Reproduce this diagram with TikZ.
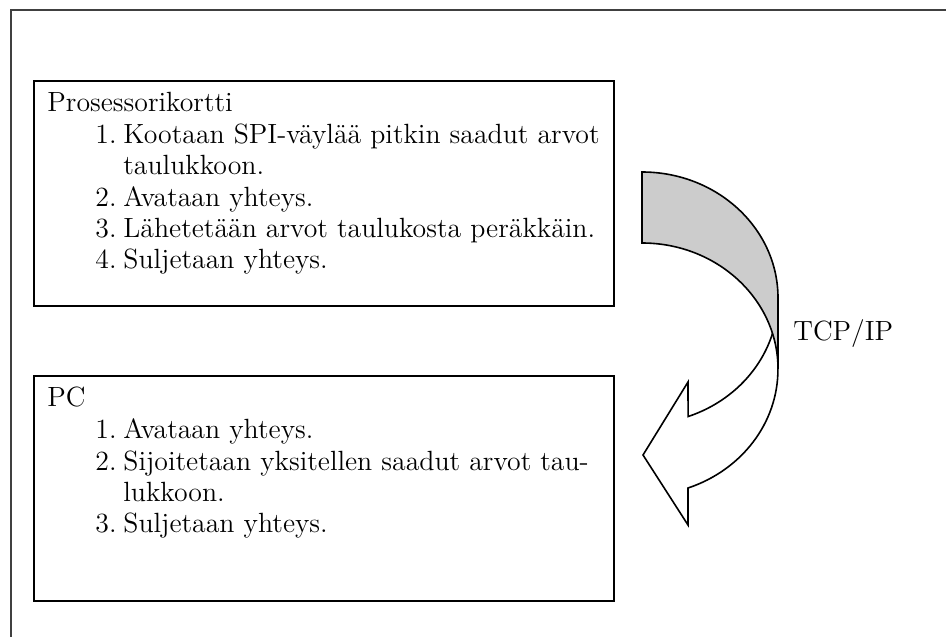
\documentclass[tikz,border=0pt]{standalone}
\usepackage{fontspec}
\tikzset{
  kehys/.style={draw=black!75, line width=1pt},
  laatikko/.style={draw, line width=0.8pt, minimum width=290pt, minimum height=112.5pt, inner sep=0pt},
  rivi/.style={anchor=base west, inner sep=0pt, font=\fontsize{13.9}{15.5}\selectfont},
  nuoli/.style={line width=0.8pt, line join=miter},
}
\begin{document}
\begin{tikzpicture}[x=0.5pt, y=-0.5pt]
    \useasboundingbox (0,0) rectangle (946,637);
    \draw[kehys] (946,10) -- (11,10) -- (11,637); % ulkokehys
    \node[laatikko] (kortti) at (324,193.5) {};
    \node[laatikko] (pc) at (324,488.5) {};
    \node[rivi] (kortti-otsikko) at (47,111) {Prosessorikortti};
    \foreach \y/\n/\t [count=\i] in {143/1./Kootaan SPI-väylää pitkin saadut arvot, 174//taulukkoon., 206/2./Avataan yhteys., 237/3./Lähetetään arvot taulukosta peräkkäin., 268/4./Suljetaan yhteys.} {
        \node[rivi] (knro\i) at (95,\y) {\n};
        \node[rivi] (kteksti\i) at (123,\y) {\t};
    }
    \node[rivi] (pc-otsikko) at (47,406) {PC};
    \foreach \y/\n/\t [count=\i] in {438/1./Avataan yhteys., 470/2./Sijoitetaan yksitellen saadut arvot tau-, 501//lukkoon., 532/3./Suljetaan yhteys.} {
        \node[rivi] (pnro\i) at (95,\y) {\n};
        \node[rivi] (pteksti\i) at (123,\y) {\t};
    }
    % kaareva nuoli: etuosa ensin, harmaa takaosa paalle
    \filldraw[nuoli, fill=white] (778,298) arc[start angle=0, end angle=70.2, x radius=136, y radius=126]
        -- (688,382) -- (643,455) -- (688,525) -- (688,488)
        arc[start angle=70.2, end angle=0, x radius=136, y radius=126] -- cycle;
    \filldraw[nuoli, fill=black!20] (642,172) arc[start angle=-90, end angle=0, x radius=136, y radius=126]
        -- (778,369) arc[start angle=0, end angle=-90, x radius=136, y radius=126] -- cycle;
    \node[rivi] (tcp) at (793,340) {TCP/IP};
\end{tikzpicture}
\end{document}
